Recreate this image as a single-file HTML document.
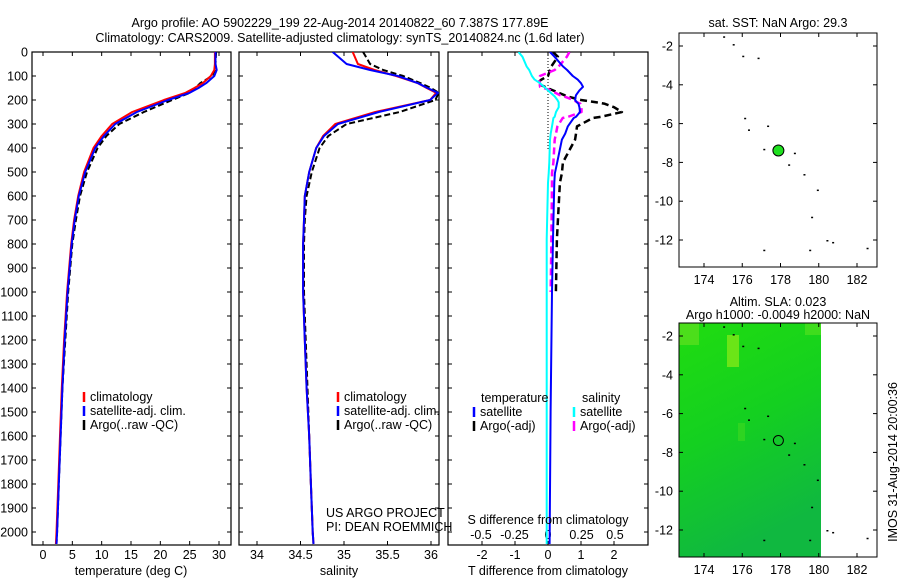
<!DOCTYPE html>
<html><head><meta charset="utf-8">
<style>
html,body{margin:0;padding:0;background:#fff;}
svg{display:block;font-family:"Liberation Sans",sans-serif;font-size:12.5px;}
</style></head>
<body>
<svg id="fig" width="900" height="580" viewBox="0 0 900 580" xmlns="http://www.w3.org/2000/svg">
<defs>
<clipPath id="c1"><rect x="32" y="52" width="199" height="493"/></clipPath>
<clipPath id="c2"><rect x="239" y="52" width="200" height="493"/></clipPath>
<clipPath id="c3"><rect x="448" y="52" width="200" height="493"/></clipPath>
<linearGradient id="fieldGrad" x1="0" y1="0" x2="0.3" y2="1">
<stop offset="0" stop-color="#20dc10"/><stop offset="0.5" stop-color="#14d020"/><stop offset="1" stop-color="#10b840"/>
</linearGradient>
</defs>
<text x="340" y="27" text-anchor="middle">Argo profile: AO 5902229_199 22-Aug-2014 20140822_60 7.387S 177.89E</text>
<text x="340" y="42" text-anchor="middle">Climatology: CARS2009. Satellite-adjusted climatology: synTS_20140824.nc (1.6d later)</text>
<g id="g1"></g>
<g id="g2"></g>
<g id="g3"></g>
<g id="m1"></g>
<g id="m2"></g>
<text transform="translate(897,462) rotate(-90)" text-anchor="middle">IMOS 31-Aug-2014 20:00:36</text>
</svg>
<script>
// ---- data ----
const depths = [0,50,75,100,130,150,170,200,250,300,350,400,500,600,700,800,1000,1200,1400,1600,1800,2000,2050];
const tempClim = [29.3,29.3,29.2,28.6,27.2,25.8,24.3,20.6,15.2,11.8,10.0,8.6,7.0,6.0,5.3,4.8,4.1,3.6,3.2,2.9,2.6,2.3,2.2];
const tempSat  = [29.4,29.4,29.6,29.2,27.8,26.5,25.0,21.3,16.0,12.3,10.4,8.9,7.2,6.1,5.4,4.9,4.2,3.7,3.3,3.0,2.7,2.4,2.3];
const tempArgo = [29.5,29.4,29.3,28.8,26.8,26.0,25.0,22.0,17.2,13.0,10.8,9.3,7.5,6.3,5.6,5.0,4.3,3.8,3.3,3.0,2.7,2.4,2.3];
const salClim = [35.10,35.16,35.35,35.60,35.85,35.95,36.06,35.99,35.36,34.90,34.76,34.68,34.60,34.55,34.54,34.53,34.53,34.55,34.57,34.60,34.62,34.64,34.65];
const salSat  = [34.87,35.03,35.30,35.62,35.85,35.96,36.08,35.99,35.40,34.93,34.77,34.68,34.60,34.55,34.54,34.53,34.53,34.55,34.57,34.60,34.62,34.64,34.65];
const salArgo = [35.22,35.30,35.45,35.68,35.88,36.00,36.09,36.05,35.64,35.03,34.82,34.72,34.63,34.57,34.55,34.54,34.54,34.56,34.58,34.60,34.62,34.64,34.65];
const diffDepth = [0,20,60,75,100,115,130,145,160,180,185,200,210,215,230,250,270,275,310,340,365,460,505,545,780,1000,1500,2050];
const tDiffSat  = [0.06,0.2,0.45,0.58,0.75,0.9,1.0,1.06,0.95,0.85,0.84,0.82,0.88,0.92,0.95,0.97,0.85,0.78,0.6,0.52,0.42,0.28,0.21,0.19,0.15,0.12,0.08,0.05];
const tDiffArgo = [0.15,0.3,0.1,0.06,0.0,-0.2,-0.33,-0.1,0.15,0.5,0.58,1.0,1.48,1.7,2.0,2.24,1.6,1.36,0.88,0.85,0.82,0.45,0.42,0.36,0.27,0.24,null,null];
const sDiffSat  = [-0.22,-0.19,-0.16,-0.14,-0.12,-0.1,-0.06,-0.03,0.0,0.04,0.05,0.07,0.08,0.08,0.08,0.06,0.05,0.04,0.03,0.02,0.015,0.01,0.005,0.0,-0.01,-0.01,-0.01,-0.01];
const sDiffArgo = [0.16,0.14,0.08,0.05,-0.06,-0.07,-0.06,-0.06,0.02,0.09,0.12,0.19,0.22,0.24,0.25,0.25,0.15,0.11,0.07,0.06,0.05,0.04,0.03,0.03,0.025,0.02,null,null];
const depthTicks = [0,100,200,300,400,500,600,700,800,900,1000,1100,1200,1300,1400,1500,1600,1700,1800,1900,2000];
const tempTicks = [0,5,10,15,20,25,30];
const salTicks = [34,34.5,35,35.5,36];
const tDiffTicks = [-2,-1,0,1,2];
const sDiffTicks = [-0.5,-0.25,0,0.25,0.5];
const sDiffTickLabels = ['-0.5','-0.25','0','0.25','0.5'];
const lonTicks = [174,176,178,180,182];
const latTicks = [-2,-4,-6,-8,-10,-12];
const floatLon = [177.89];
const floatLat = [-7.387];
const islandLon = [175.0,175.5,176.0,176.8,176.1,176.3,177.3,177.1,178.7,178.4,179.2,179.9,179.6,180.4,180.7,182.5,177.1,179.5];
const islandLat = [-1.5,-1.9,-2.5,-2.6,-5.7,-6.3,-6.1,-7.3,-7.5,-8.1,-8.6,-9.4,-10.8,-12.0,-12.1,-12.4,-12.5,-12.5];

// ---- helpers ----
const NS='http://www.w3.org/2000/svg';
function mk(parent,tag,attrs,text){const e=document.createElementNS(NS,tag);for(const k in attrs)e.setAttribute(k,attrs[k]);if(text!==undefined)e.textContent=text;parent.appendChild(e);return e;}
const Y0=52, Y1=545, PXD=0.24;
function yD(d){return Y0+d*PXD;}
function lin(v0,p0,v1,p1){return v=>p0+(v-v0)*(p1-p0)/(v1-v0);}

function frame(g,x0,x1,xs,ticks,labels,labelY){
  mk(g,'rect',{x:x0,y:Y0,width:x1-x0,height:Y1-Y0,fill:'none',stroke:'#000','stroke-width':1.2});
  depthTicks.forEach(d=>{const y=yD(d);
    mk(g,'line',{x1:x0,y1:y,x2:x0+4,y2:y,stroke:'#000'});
    mk(g,'line',{x1:x1,y1:y,x2:x1-4,y2:y,stroke:'#000'});});
  if(ticks) ticks.forEach((t,i)=>{const x=xs(t);
    mk(g,'line',{x1:x,y1:Y0,x2:x,y2:Y0+4,stroke:'#000'});
    mk(g,'line',{x1:x,y1:Y1,x2:x,y2:Y1-4,stroke:'#000'});
    if(labels){const t1=mk(g,'text',{x:x,y:labelY,'text-anchor':'middle'},labels[i]);
      
      }});
}
function line(g,xs,xv,dv,color,w,dash,name,clip){
  let d='';let pen=false;
  for(let i=0;i<dv.length;i++){if(xv[i]===null||xv[i]===undefined){pen=false;continue;}
    d+=(pen?'L':'M')+xs(xv[i]).toFixed(1)+' '+yD(dv[i]).toFixed(1);pen=true;}
  const p=mk(g,'path',{d:d,fill:'none',stroke:color,'stroke-width':w,'stroke-dasharray':dash||'none','stroke-linejoin':'round','clip-path':'url(#'+clip+')'});
  
  
}
function legend(g,x,y,color,label){
  mk(g,'line',{x1:x,y1:y-9,x2:x,y2:y+1,stroke:color,'stroke-width':2.5});
  const t=mk(g,'text',{x:x+6,y:y},label);
  
  
}

// ---- panel 1: temperature ----
const g1=document.getElementById('g1');
const xT=lin(0,43,30,219);
frame(g1,32,231,xT,tempTicks,tempTicks.map(String),559);
depthTicks.forEach(d=>{const t=mk(g1,'text',{x:28,y:yD(d)+4.5,'text-anchor':'end'},String(d));
  
  });
line(g1,xT,tempArgo,depths,'#000',2,'6 3','temp-argo-line','c1');
line(g1,xT,tempClim,depths,'#f00',2,null,'temp-climatology-line','c1');
line(g1,xT,tempSat,depths,'#00f',2,null,'temp-satellite-line','c1');
legend(g1,84,401,'#f00','climatology');
legend(g1,84,415,'#00f','satellite-adj. clim.');
legend(g1,84,429,'#000','Argo(..raw -QC)');
mk(g1,'text',{x:131,y:575,'text-anchor':'middle',},'temperature (deg C)');

// ---- panel 2: salinity ----
const g2=document.getElementById('g2');
const xS=lin(34,257,36,431);
frame(g2,239,439,xS,salTicks,salTicks.map(String),559);
line(g2,xS,salArgo,depths,'#000',2,'6 3','sal-argo-line','c2');
line(g2,xS,salClim,depths,'#f00',2,null,'sal-climatology-line','c2');
line(g2,xS,salSat,depths,'#00f',2,null,'sal-satellite-line','c2');
legend(g2,338,401,'#f00','climatology');
legend(g2,338,415,'#00f','satellite-adj. clim.');
legend(g2,338,429,'#000','Argo(..raw -QC)');
mk(g2,'text',{x:326,y:517,},'US ARGO PROJECT');
mk(g2,'text',{x:326,y:531,},'PI: DEAN ROEMMICH');
mk(g2,'text',{x:339,y:575,'text-anchor':'middle',},'salinity');

// ---- panel 3: differences ----
const g3=document.getElementById('g3');
const xTD=lin(0,548,2,614);
const xSD=lin(0,548,0.5,615);
frame(g3,448,648,xTD,tDiffTicks,tDiffTicks.map(String),559);
sDiffTicks.forEach((t,i)=>{const tx=mk(g3,'text',{x:xSD(t),y:539,'text-anchor':'middle'},sDiffTickLabels[i]);
  
  });
mk(g3,'line',{x1:548,y1:Y0,x2:548,y2:150,stroke:'#000','stroke-dasharray':'1 2'});
line(g3,xTD,tDiffArgo,diffDepth,'#000',2.5,'7 4','t-diff-argo-line','c3');
line(g3,xSD,sDiffArgo,diffDepth,'#f0f',2.5,'7 4','s-diff-argo-line','c3');
line(g3,xSD,sDiffSat,diffDepth,'#0ff',2,null,'s-diff-satellite-line','c3');
line(g3,xTD,tDiffSat,diffDepth,'#00f',2,null,'t-diff-satellite-line','c3');
mk(g3,'text',{x:481,y:402,},'temperature');
mk(g3,'text',{x:582,y:402,},'salinity');
legend(g3,474,416,'#00f','satellite');
legend(g3,474,430,'#000','Argo(-adj)');
legend(g3,574,416,'#0ff','satellite');
legend(g3,574,430,'#f0f','Argo(-adj)');
mk(g3,'text',{x:548,y:524,'text-anchor':'middle',},'S difference from climatology');
mk(g3,'text',{x:548,y:575,'text-anchor':'middle',},'T difference from climatology');

// ---- maps ----
function map(g,top,title1,title2,field){
  const x0=679,x1=877,bot=top+234;
  const xl=lin(174,704,182,857), yl=lin(-2,top+13,-12,top+207);
  if(field){
    mk(g,'rect',{x:x0,y:top,width:821-x0,height:bot-top,fill:'url(#fieldGrad)'});
    mk(g,'rect',{x:x0,y:top,width:20,height:22,fill:'#60e020',opacity:0.7});
    mk(g,'rect',{x:727,y:top+12,width:12,height:32,fill:'#80e818',opacity:0.8});
    mk(g,'rect',{x:805,y:top,width:16,height:12,fill:'#50e020',opacity:0.7});
    mk(g,'rect',{x:738,y:top+100,width:7,height:18,fill:'#40d820',opacity:0.6});
  }
  mk(g,'rect',{x:x0,y:top,width:x1-x0,height:bot-top,fill:'none',stroke:'#000','stroke-width':1});
  lonTicks.forEach(l=>{const x=xl(l);
    mk(g,'line',{x1:x,y1:top,x2:x,y2:top+4,stroke:'#000'});
    mk(g,'line',{x1:x,y1:bot,x2:x,y2:bot-4,stroke:'#000'});
    const t=mk(g,'text',{x:x,y:bot+17,'text-anchor':'middle'},String(l));
    
    });
  latTicks.forEach(l=>{const y=yl(l);
    mk(g,'line',{x1:x0,y1:y,x2:x0+4,y2:y,stroke:'#000'});
    mk(g,'line',{x1:x1,y1:y,x2:x1-4,y2:y,stroke:'#000'});
    const t=mk(g,'text',{x:673,y:y+4.5,'text-anchor':'end'},String(l));
    
    });
  islandLon.forEach((l,i)=>{const d=mk(g,'rect',{x:xl(l),y:yl(islandLat[i]),width:2,height:1.5,fill:'#000'});
    
    });
  floatLon.forEach((l,i)=>{const c=mk(g,'circle',{cx:xl(l),cy:yl(floatLat[i]),r:field?5:5.5,fill:field?'none':'#20e020',stroke:'#000','stroke-width':1});
    
    });
  if(title2){
    mk(g,'text',{x:778,y:top-17,'text-anchor':'middle',},title1);
    mk(g,'text',{x:778,y:top-4,'text-anchor':'middle',},title2);
  } else mk(g,'text',{x:778,y:top-6,'text-anchor':'middle',},title1);
}
map(document.getElementById('m1'),33,'sat. SST: NaN Argo: 29.3',null,false);
map(document.getElementById('m2'),323,'Altim. SLA: 0.023','Argo h1000: -0.0049 h2000: NaN',true);
</script>
</body></html>
